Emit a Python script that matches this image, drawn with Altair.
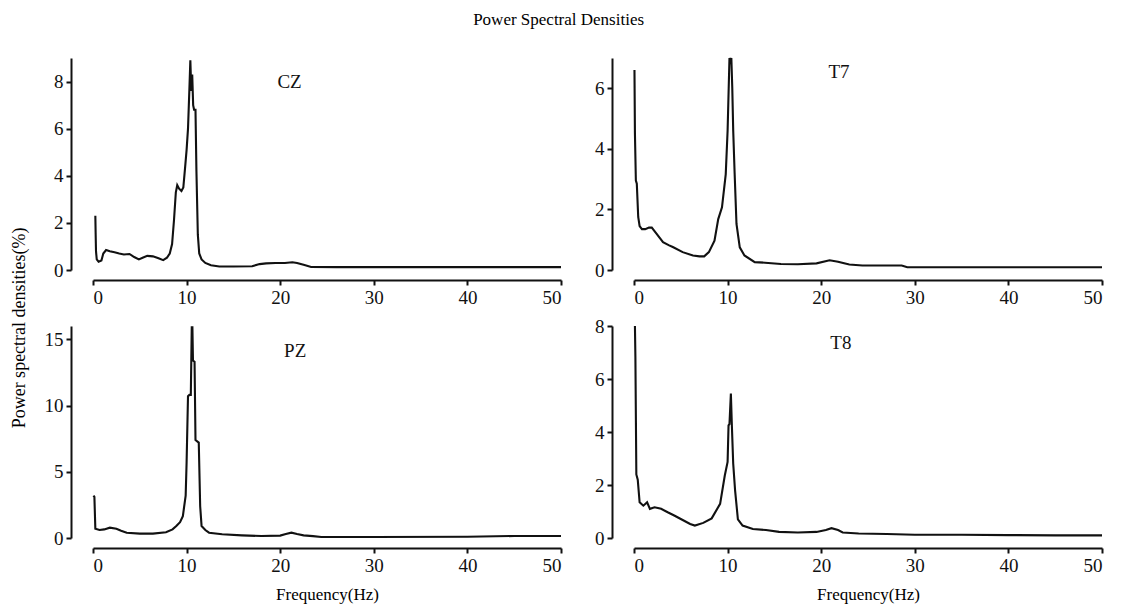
import altair as alt
import pandas as pd

FONT = "Liberation Serif"

# ---------------- data ----------------
CZ_F = [0.25, 0.28, 0.32, 0.4, 0.6, 0.9, 1.1, 1.4, 1.8, 2.3, 2.8, 3.3, 3.9, 4.4, 4.9,
        5.3, 5.8, 6.4, 7.0, 7.5, 7.9, 8.2, 8.45, 8.65, 8.85, 9.0, 9.2, 9.45, 9.65, 9.85,
        10.0, 10.15, 10.3, 10.4, 10.5, 10.6, 10.7, 10.8, 10.95, 11.05, 11.2, 11.35, 11.6, 12.0, 12.6,
        13.5, 15.0, 17.0, 17.8, 18.5, 19.5, 20.5, 21.3, 21.8, 22.5, 23.3, 26.0, 30.0, 40.0, 50.0]
CZ_V = [2.3, 1.6, 0.8, 0.45, 0.35, 0.4, 0.7, 0.85, 0.8, 0.75, 0.7, 0.66, 0.68, 0.55, 0.45,
        0.52, 0.6, 0.58, 0.5, 0.42, 0.52, 0.7, 1.1, 2.1, 3.3, 3.6, 3.45, 3.35, 3.5, 4.4,
        5.1, 6.0, 7.7, 8.9, 7.6, 8.3, 7.0, 6.8, 6.8, 4.2, 1.5, 0.7, 0.45, 0.3, 0.2,
        0.15, 0.15, 0.16, 0.25, 0.28, 0.3, 0.3, 0.33, 0.3, 0.22, 0.13, 0.12, 0.12, 0.12, 0.12]

T7_F = [0.05, 0.1, 0.2, 0.3, 0.45, 0.6, 0.85, 1.2, 1.6, 1.9, 2.4, 3.1, 3.7, 4.2, 5.2,
        6.3, 7.0, 7.5, 8.0, 8.6, 9.0, 9.4, 9.8, 10.0, 10.1, 10.2, 10.3, 10.4, 10.5, 10.6,
        10.75, 10.95, 11.3, 11.8, 12.9, 14.0, 15.7, 17.5, 19.5, 20.9, 21.8, 23.0, 24.4, 26.5, 28.6,
        29.2, 35.0, 40.0, 45.0, 50.0]
T7_V = [6.6, 4.5, 2.95, 2.85, 1.75, 1.45, 1.35, 1.35, 1.4, 1.4, 1.2, 0.92, 0.82, 0.75, 0.59,
        0.48, 0.45, 0.45, 0.59, 0.97, 1.68, 2.07, 3.16, 4.6, 5.8, 7.0, 6.8, 7.0, 6.0, 4.6,
        3.2, 1.52, 0.75, 0.48, 0.26, 0.24, 0.2, 0.19, 0.22, 0.32, 0.27, 0.18, 0.15, 0.15, 0.15,
        0.09, 0.09, 0.09, 0.09, 0.09]

PZ_F = [0.05, 0.15, 0.25, 0.7, 1.2, 1.8, 2.5, 3.0, 3.6, 5.0, 6.4, 7.8, 8.5, 8.9, 9.3,
        9.6, 9.9, 10.0, 10.15, 10.3, 10.45, 10.55, 10.62, 10.68, 10.85, 10.95, 11.3, 11.45, 11.6, 12.0,
        12.4, 13.8, 15.9, 18.0, 20.0, 20.6, 21.2, 21.8, 22.5, 23.5, 24.4, 30.0, 40.0, 45.0, 50.0]
PZ_V = [3.2, 3.1, 0.7, 0.6, 0.65, 0.78, 0.7, 0.55, 0.4, 0.33, 0.33, 0.43, 0.65, 0.9, 1.2,
        1.65, 3.2, 5.7, 10.7, 10.8, 10.8, 15.9, 15.9, 13.4, 13.3, 7.4, 7.2, 2.4, 0.9, 0.6,
        0.4, 0.28, 0.2, 0.15, 0.18, 0.3, 0.4, 0.3, 0.2, 0.14, 0.08, 0.08, 0.1, 0.15, 0.15]

T8_F = [0.1, 0.15, 0.25, 0.4, 0.6, 1.0, 1.4, 1.7, 2.2, 2.9, 3.6, 4.3, 5.3, 6.0, 6.5,
        7.4, 8.3, 9.2, 9.7, 10.0, 10.1, 10.2, 10.35, 10.45, 10.6, 10.8, 11.1, 11.6, 12.7, 14.1,
        15.5, 17.5, 19.5, 20.5, 21.1, 21.8, 22.3, 24.0, 27.0, 30.0, 35.0, 40.0, 45.0, 50.0]
T8_V = [8.0, 6.8, 2.4, 2.2, 1.35, 1.22, 1.35, 1.1, 1.16, 1.1, 0.97, 0.85, 0.66, 0.53, 0.47,
        0.57, 0.74, 1.29, 2.36, 2.87, 4.25, 4.3, 5.45, 4.3, 2.8, 1.8, 0.7, 0.47, 0.34, 0.3,
        0.23, 0.21, 0.23, 0.3, 0.37, 0.3, 0.21, 0.17, 0.15, 0.12, 0.12, 0.11, 0.1, 0.1]

X_TICKS = [0, 10, 20, 30, 40, 50]
CZ_TICKS = [0, 2, 4, 6, 8]
T7_TICKS = [0, 2, 4, 6]
PZ_TICKS = [0, 5, 10, 15]
T8_TICKS = [0, 2, 4, 6, 8]

PANEL_NAMES = ["CZ", "T7", "PZ", "T8"]
PANEL_YMAX = [9, 7, 16, 8]
LABEL_F = [21.0, 21.9, 21.6, 22.1]
LABEL_V = [8.0, 6.55, 14.1, 7.35]

TITLE = "Power Spectral Densities"
Y_TITLE = "Power spectral densities(%)"
X_TITLE = "Frequency(Hz)"

W, H = 468, 212


def panel(freqs, vals, idx, yticks, xtitle):
    df = pd.DataFrame({"f": freqs, "v": vals})
    xaxis_kw = dict(values=X_TICKS, offset=10, format="d")
    if xtitle:
        xaxis_kw.update(title=xtitle, titleFont=FONT, titleFontSize=17,
                        titleFontWeight="normal", titlePadding=11, titleColor="black")
    else:
        xaxis_kw.update(title=None)
    line = alt.Chart(df).mark_line(color="#111111", strokeWidth=2.1).encode(
        x=alt.X("f:Q", scale=alt.Scale(domain=[0, 50], nice=False, zero=False),
                axis=alt.Axis(**xaxis_kw)),
        y=alt.Y("v:Q", scale=alt.Scale(domain=[0, PANEL_YMAX[idx]], nice=False),
                axis=alt.Axis(values=yticks, offset=22, title=None, format="d")),
    )
    lab = alt.Chart(pd.DataFrame({"t": [PANEL_NAMES[idx]]})).mark_text(
        font=FONT, fontSize=19, color="#111111"
    ).encode(
        x=alt.datum(LABEL_F[idx]),
        y=alt.datum(LABEL_V[idx]),
        text="t:N",
    )
    return alt.layer(line, lab).properties(width=W, height=H)


cz = panel(CZ_F, CZ_V, 0, CZ_TICKS, None)
t7 = panel(T7_F, T7_V, 1, T7_TICKS, None)
pz = panel(PZ_F, PZ_V, 2, PZ_TICKS, X_TITLE)
t8 = panel(T8_F, T8_V, 3, T8_TICKS, X_TITLE)

row1 = alt.hconcat(cz, t7, spacing=28)
row2 = alt.hconcat(pz, t8, spacing=28)

grid = alt.vconcat(
    row1, row2, spacing=10,
    title=alt.TitleParams(Y_TITLE, orient="left", anchor="middle", font=FONT,
                          fontSize=18, fontWeight="normal", color="black", offset=15),
)

chart = alt.vconcat(
    grid,
    title=alt.TitleParams(TITLE, anchor="middle", font=FONT, fontSize=17,
                          fontWeight="normal", color="black", offset=25),
    padding={"left": 2, "top": 2, "right": 5, "bottom": 5},
).configure_view(stroke=None).configure_axis(
    grid=False,
    domainColor="#111111",
    domainWidth=2,
    tickColor="#111111",
    tickWidth=2,
    tickSize=5,
    labelFont=FONT,
    labelFontSize=19,
    labelColor="#111111",
    labelPadding=3,
)

chart.save("out.html", embed_options={"renderer": "svg", "actions": False})
